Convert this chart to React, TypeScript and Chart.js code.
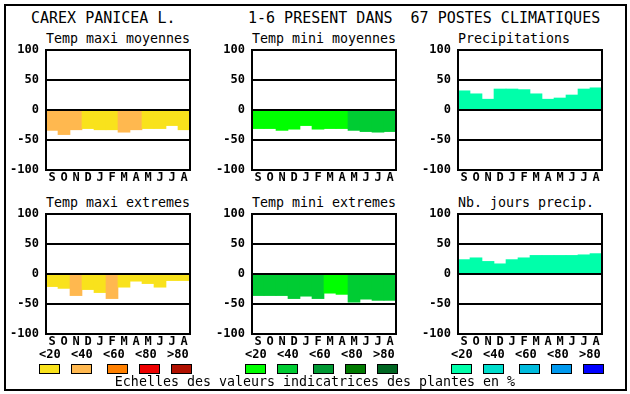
import React, { useEffect, useRef } from "react";
import { Chart, registerables } from "chart.js";

Chart.register(...registerables);

const months = ["S", "O", "N", "D", "J", "F", "M", "A", "M", "J", "J", "A"];
const legendLabels = ["<20", "<40", "<60", "<80", ">80"];

const tempMaxiMoy = [-34, -41, -33, -31, -33, -33, -37, -33, -31, -31, -26, -33];
const tempMaxiMoyClass = [1, 1, 1, 0, 0, 0, 1, 1, 0, 0, 0, 0];
const tempMiniMoy = [-31, -31, -34, -32, -26, -32, -31, -31, -34, -36, -37, -36];
const tempMiniMoyClass = [0, 0, 0, 0, 0, 0, 0, 0, 1, 1, 1, 1];
const precip = [32, 27, 18, 35, 35, 34, 27, 18, 20, 25, 35, 37];
const precipClass = [0, 0, 0, 0, 0, 0, 0, 0, 0, 0, 0, 0];
const tempMaxiExt = [-21, -24, -36, -26, -31, -41, -22, -12, -16, -22, -11, -11];
const tempMaxiExtClass = [0, 0, 1, 0, 0, 1, 0, 0, 0, 0, 0, 0];
const tempMiniExt = [-36, -36, -36, -41, -37, -41, -32, -34, -47, -42, -44, -44];
const tempMiniExtClass = [1, 1, 1, 1, 1, 1, 0, 0, 1, 1, 1, 1];
const nbJours = [24, 27, 21, 17, 24, 27, 31, 31, 31, 31, 32, 34];
const nbJoursClass = [0, 0, 0, 0, 0, 0, 0, 0, 0, 0, 0, 0];

const warmPalette = ["#f9e21c", "#ffb84f", "#ff8000", "#ee0000", "#b01000"];
const greenPalette = ["#00ff00", "#00cc33", "#009933", "#007a00", "#006622"];
const bluePalette = ["#00ffaa", "#00ddcc", "#00bbdd", "#0099ee", "#0000ff"];

const MONO = "'DejaVu Sans Mono', 'Liberation Mono', monospace";

const PLOT_W = 144;
const PLOT_H = 120;
const AX_W = 46;
const PAD_TOP = 18;
const PAD_RIGHT = 6;
const X_H = 20;

const framePlugin = {
  id: "frame",
  afterDraw(chart: any) {
    const { ctx, chartArea } = chart;
    ctx.save();
    ctx.strokeStyle = "#000";
    ctx.lineWidth = 2;
    ctx.strokeRect(chartArea.left, chartArea.top, chartArea.right - chartArea.left, chartArea.bottom - chartArea.top);
    ctx.restore();
  },
};

function Panel(props: { left: number; top: number; title: string; values: number[]; classes: number[]; palette: string[] }) {
  const ref = useRef<HTMLCanvasElement>(null);
  useEffect(() => {
    if (!ref.current) return;
    const tickFont = { family: MONO, size: 12, weight: "bold" as const, lineHeight: 1 };
    const chart = new Chart(ref.current, {
      type: "bar",
      data: {
        labels: months,
        datasets: [
          {
            data: props.values,
            backgroundColor: props.classes.map((c) => props.palette[c]),
            borderWidth: 0,
            barPercentage: 1,
            categoryPercentage: 1,
          },
        ],
      },
      options: {
        animation: false,
        responsive: false,
        maintainAspectRatio: false,
        layout: { padding: { top: PAD_TOP, right: PAD_RIGHT, left: 0, bottom: 0 } },
        plugins: { legend: { display: false }, tooltip: { enabled: false }, title: { display: false } },
        scales: {
          x: {
            grid: { display: false, drawTicks: false },
            border: { display: false },
            ticks: { font: tickFont, color: "#000", padding: 2, maxRotation: 0, autoSkip: false },
            afterFit: (s: any) => {
              s.height = X_H;
            },
          },
          y: {
            min: -100,
            max: 100,
            ticks: { stepSize: 50, font: tickFont, color: "#000", padding: 7 },
            grid: { color: "#000", lineWidth: 2, drawTicks: false, z: 1 },
            border: { display: false },
            afterFit: (s: any) => {
              s.width = AX_W;
            },
          },
        },
      } as any,
      plugins: [framePlugin],
    });
    return () => chart.destroy();
  }, []);
  const w = AX_W + PLOT_W + PAD_RIGHT;
  const h = PAD_TOP + PLOT_H + X_H;
  return (
    <>
      <div
        style={{
          position: "absolute",
          left: props.left,
          top: props.top - 18,
          fontFamily: MONO,
          fontSize: 13.3,
          lineHeight: "13.3px",
          whiteSpace: "pre",
          color: "#000",
        }}
      >
        {props.title}
      </div>
      <canvas
        ref={ref}
        width={w}
        height={h}
        style={{ position: "absolute", left: props.left - AX_W, top: props.top - PAD_TOP, width: w, height: h }}
      />
    </>
  );
}

function LegendGroup(props: { left: number; palette: string[] }) {
  const offs = [0, 32, 68, 100, 132];
  return (
    <>
      {legendLabels.map((l, i) => (
        <div
          key={"l" + i}
          style={{
            position: "absolute",
            left: props.left + 32 * i,
            width: 21,
            textAlign: "center",
            top: 348,
            fontFamily: MONO,
            fontWeight: "bold",
            fontSize: 12,
            lineHeight: "12px",
            color: "#000",
          }}
        >
          {l}
        </div>
      ))}
      {props.palette.map((c, i) => (
        <div
          key={"s" + i}
          style={{
            position: "absolute",
            left: props.left + offs[i],
            top: 364,
            width: 21,
            height: 10,
            boxSizing: "border-box",
            border: "1px solid #000",
            background: c,
          }}
        />
      ))}
    </>
  );
}

export default function App() {
  const cols = [46, 252, 458];
  const rows = [50, 214];
  return (
    <div
      style={{
        position: "fixed",
        left: 0,
        top: 0,
        width: 630,
        height: 394,
        background: "#fff",
        overflow: "hidden",
      }}
    >
      <div
        style={{
          position: "absolute",
          left: 4,
          top: 4,
          width: 623,
          height: 387,
          boxSizing: "border-box",
          border: "2px solid #000",
        }}
      />
      <div style={{ position: "absolute", left: 31, top: 11, fontFamily: MONO, fontSize: 15, lineHeight: "15px", whiteSpace: "pre" }}>
        CAREX PANICEA L.
      </div>
      <div style={{ position: "absolute", left: 248, top: 11, fontFamily: MONO, fontSize: 15, lineHeight: "15px", whiteSpace: "pre" }}>
        {"1-6 PRESENT DANS  67 POSTES CLIMATIQUES"}
      </div>
      <Panel left={cols[0]} top={rows[0]} title="Temp maxi moyennes" values={tempMaxiMoy} classes={tempMaxiMoyClass} palette={warmPalette} />
      <Panel left={cols[1]} top={rows[0]} title="Temp mini moyennes" values={tempMiniMoy} classes={tempMiniMoyClass} palette={greenPalette} />
      <Panel left={cols[2]} top={rows[0]} title="Precipitations" values={precip} classes={precipClass} palette={bluePalette} />
      <Panel left={cols[0]} top={rows[1]} title="Temp maxi extremes" values={tempMaxiExt} classes={tempMaxiExtClass} palette={warmPalette} />
      <Panel left={cols[1]} top={rows[1]} title="Temp mini extremes" values={tempMiniExt} classes={tempMiniExtClass} palette={greenPalette} />
      <Panel left={cols[2]} top={rows[1]} title="Nb. jours precip." values={nbJours} classes={nbJoursClass} palette={bluePalette} />
      <LegendGroup left={cols[0] - 7} palette={warmPalette} />
      <LegendGroup left={cols[1] - 7} palette={greenPalette} />
      <LegendGroup left={cols[2] - 7} palette={bluePalette} />
      <div
        style={{
          position: "absolute",
          left: 0,
          width: 630,
          textAlign: "center",
          top: 375,
          fontFamily: MONO,
          fontSize: 13.3,
          lineHeight: "13.3px",
          whiteSpace: "pre",
        }}
      >
        Echelles des valeurs indicatrices des plantes en %
      </div>
    </div>
  );
}
